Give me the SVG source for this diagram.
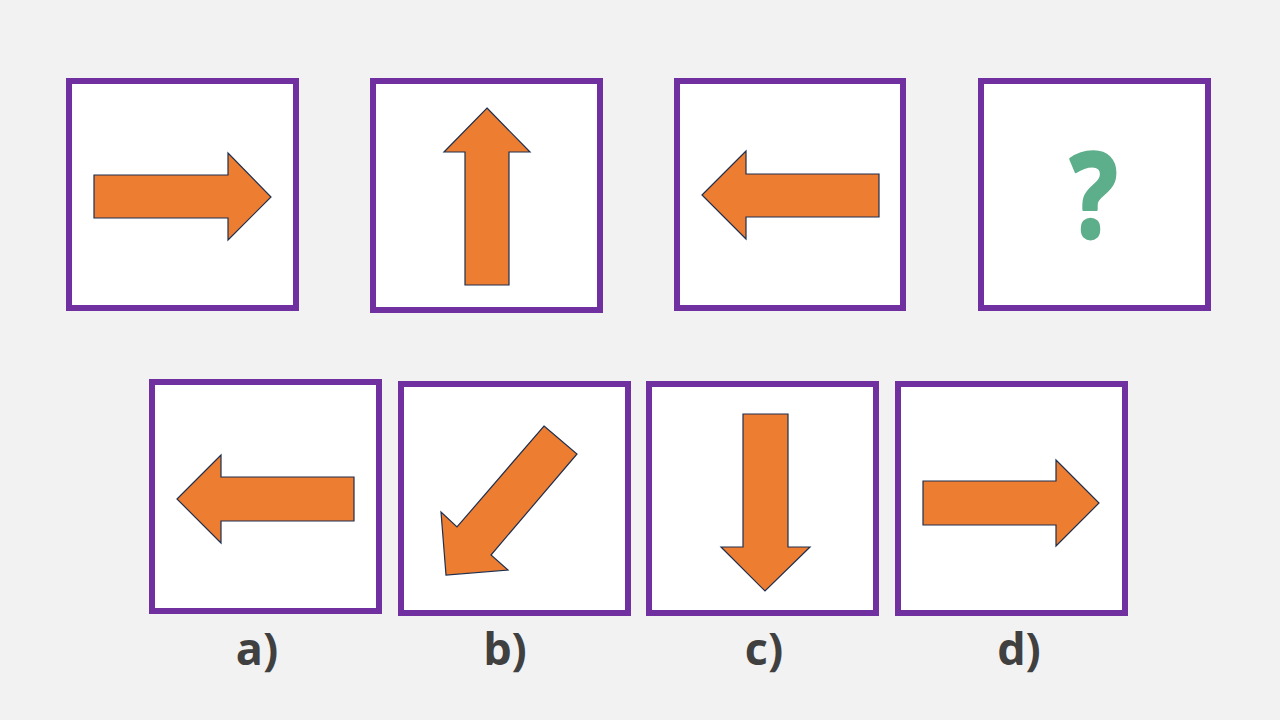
<svg xmlns="http://www.w3.org/2000/svg" width="1280" height="720" viewBox="0 0 1280 720">
  <style>
    .box { fill: #FFFFFF; stroke: #7030A0; stroke-width: 6; }
    .arrow { fill: #ED7D31; stroke: #1F2F4F; stroke-width: 1.2; stroke-linejoin: miter; }
    .label { font-family: "Open Sans", "Liberation Sans", sans-serif; font-weight: bold; font-size: 45px; fill: #404040; text-anchor: middle; }
    .q { font-family: "Open Sans", "Liberation Sans", sans-serif; font-weight: bold; font-size: 118px; fill: #5DAE8B; stroke: #5DAE8B; stroke-width: 3; stroke-linejoin: round; text-anchor: middle; }
  </style>
  <rect x="0" y="0" width="1280" height="720" fill="#F2F2F2"/>

  <g id="tile1">
    <rect class="box" x="69" y="81" width="227" height="227"/>
    <polygon class="arrow" points="94,175 228,175 228,153 271,197 228,240 228,218 94,218"/>
  </g>
  <g id="tile2">
    <rect class="box" x="373" y="81" width="227" height="229"/>
    <polygon class="arrow" points="487,108 530,152 509,152 509,285 465,285 465,152 444,152"/>
  </g>
  <g id="tile3">
    <rect class="box" x="677" y="81" width="226" height="227"/>
    <polygon class="arrow" points="702,195 746,151 746,174 879,174 879,217 746,217 746,239"/>
  </g>
  <g id="tile4">
    <rect class="box" x="981" y="81" width="227" height="227"/>
    <text class="q" transform="translate(1094,237) scale(0.84,1)" x="0" y="0">?</text>
  </g>

  <g id="option-a">
    <rect class="box" x="152" y="382" width="227" height="229"/>
    <polygon class="arrow" points="177,499 221,455 221,477 354,477 354,521 221,521 221,543"/>
    <text class="label" x="257" y="665">a)</text>
  </g>
  <g id="option-b">
    <rect class="box" x="401" y="384" width="227" height="229"/>
    <polygon class="arrow" points="544,426 577,454 491,555 508,570 446,575 441,512 457,527"/>
    <text class="label" x="505" y="665">b)</text>
  </g>
  <g id="option-c">
    <rect class="box" x="649" y="384" width="227" height="229"/>
    <polygon class="arrow" points="743,414 788,414 788,547 810,547 765,591 721,547 743,547"/>
    <text class="label" x="764" y="665">c)</text>
  </g>
  <g id="option-d">
    <rect class="box" x="898" y="384" width="227" height="229"/>
    <polygon class="arrow" points="923,481 1056,481 1056,460 1099,503 1056,546 1056,525 923,525"/>
    <text class="label" x="1019" y="665">d)</text>
  </g>

  <g id="connectors"/>
</svg>
